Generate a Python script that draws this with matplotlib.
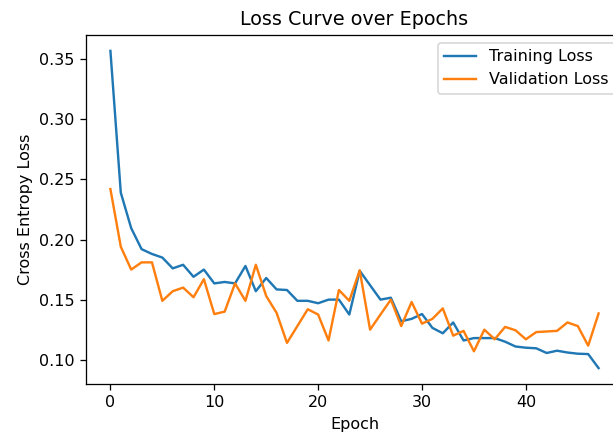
import matplotlib
matplotlib.use("Agg")
import matplotlib.pyplot as plt
import numpy as np


##########
# Data
##########

epochs = np.arange(48)

train_loss = [0.357, 0.239, 0.2095, 0.192, 0.188, 0.185, 0.176, 0.179, 0.169, 0.175,
              0.1635, 0.1647, 0.1635, 0.178, 0.157, 0.168, 0.1585, 0.158, 0.149, 0.149,
              0.147, 0.150, 0.150, 0.1376, 0.174, 0.162, 0.150, 0.1516, 0.132, 0.134,
              0.138, 0.1265, 0.122, 0.131, 0.116, 0.118, 0.118, 0.118, 0.115, 0.111,
              0.110, 0.1095, 0.1056, 0.1075, 0.106, 0.105, 0.1047, 0.093]

val_loss = [0.242, 0.194, 0.175, 0.181, 0.181, 0.149, 0.157, 0.160, 0.152, 0.167,
            0.138, 0.140, 0.1635, 0.149, 0.179, 0.153, 0.139, 0.114, 0.128, 0.142,
            0.1376, 0.116, 0.158, 0.149, 0.1744, 0.125, 0.1376, 0.150, 0.128, 0.148,
            0.130, 0.134, 0.1427, 0.120, 0.124, 0.107, 0.125, 0.117, 0.1273, 0.1245,
            0.117, 0.123, 0.1235, 0.124, 0.131, 0.128, 0.1117, 0.1385]


##########
# Plot
##########

dpi = 115
fig = plt.figure(figsize=(613 / dpi, 437 / dpi), dpi=dpi)
# right side of the axes runs past the figure edge, like the cropped original
ax = fig.add_axes([0.1403, 0.1213, 0.876, 0.7986])

ax.plot(epochs, train_loss, label='Training Loss')
ax.plot(epochs, val_loss, label='Validation Loss')

ax.set_title('Loss Curve over Epochs')
ax.set_xlabel('Epoch')
ax.set_ylabel('Cross Entropy Loss')
ax.legend(loc='upper right')

fig.savefig('out.png', dpi=dpi)
